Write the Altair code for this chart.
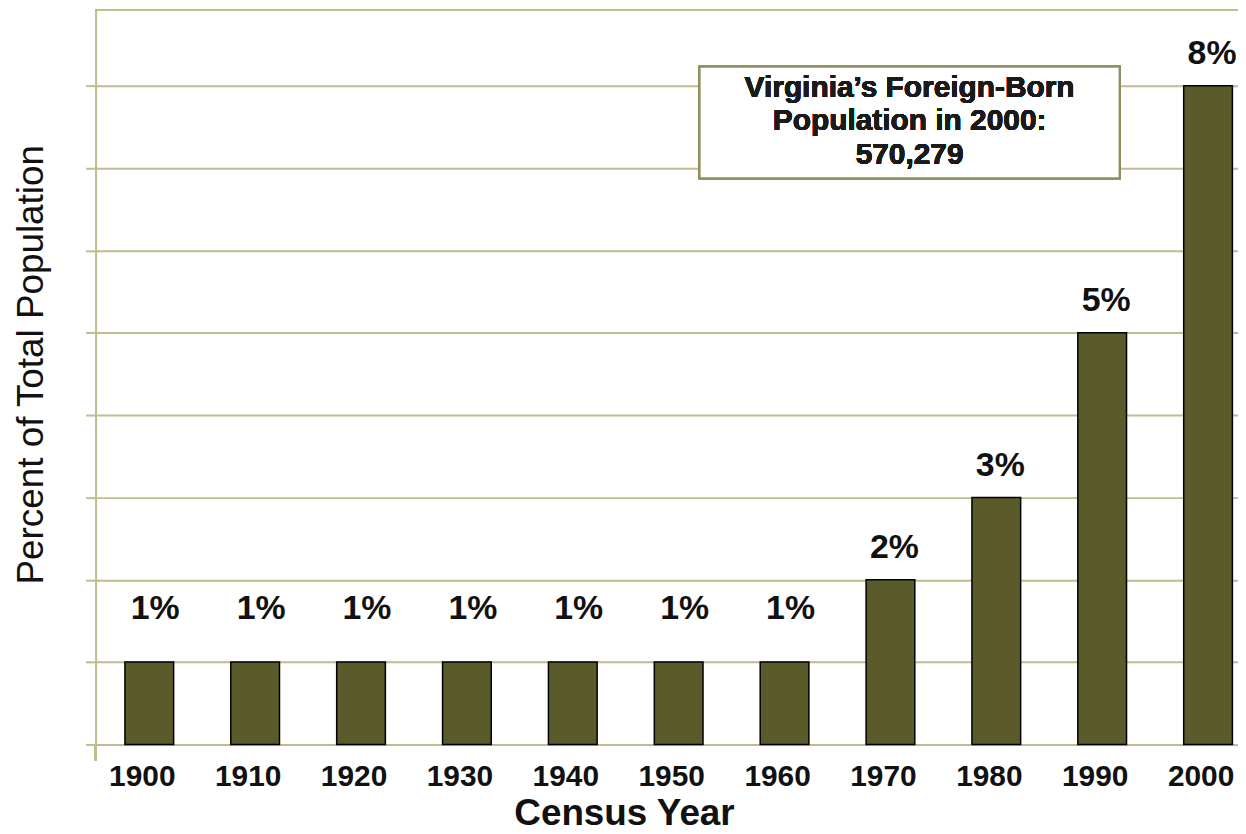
import altair as alt
import pandas as pd

years = ["1900", "1910", "1920", "1930", "1940", "1950", "1960", "1970", "1980", "1990", "2000"]
percent = [1, 1, 1, 1, 1, 1, 1, 2, 3, 5, 8]
note_lines = ["Virginia’s Foreign-Born", "Population in 2000:", "570,279"]
y_ticks = [0, 1, 2, 3, 4, 5, 6, 7, 8]

df = pd.DataFrame({"year": years, "pct": percent})

W, H = 1148, 738
FONT = "Liberation Sans"
OLIVE = "#bdbd8f"
BAR = "#5a5a2a"

x_enc = alt.X(
    "year:N",
    sort=years,
    scale=alt.Scale(paddingInner=0.54, paddingOuter=0.165, align=0.84),
    axis=alt.Axis(
        title="Census Year",
        titleFont=FONT, titleFontSize=37, titleFontWeight="bold", titleColor="#111",
        titleX=531, titleY=80, titleAnchor="middle", titleAlign="center", titleBaseline="alphabetic",
        labelFont=FONT, labelFontSize=30, labelFontWeight="bold", labelColor="#111",
        labelAngle=0, labelPadding=17, labelOffset=-7,
        ticks=False, domainColor=OLIVE, domainWidth=2, grid=False,
    ),
)
y_enc = alt.Y(
    "pct:Q",
    scale=alt.Scale(domain=[0, 8.92], nice=False, zero=True),
    axis=alt.Axis(
        title="Percent of Total Population",
        titleFont=FONT, titleFontSize=37, titleFontWeight="normal", titleColor="#111",
        titleAngle=-90, titleX=-64, titleY=356, titleAlign="center", titleBaseline="middle",
        labels=False, values=y_ticks, tickSize=10, tickColor=OLIVE, tickWidth=2,
        domainColor=OLIVE, domainWidth=2, gridColor=OLIVE, gridWidth=2,
    ),
)

base = alt.Chart(df)

bars = base.mark_bar(color=BAR, stroke="#000", strokeWidth=1.5).encode(x=x_enc, y=y_enc)

lab_small = base.transform_filter("datum.pct <= 1").transform_calculate(
    lab="datum.pct + '%'"
).mark_text(font=FONT, fontSize=34, fontWeight="bold", color="#111", baseline="alphabetic", dy=-43, dx=6).encode(
    x=alt.X("year:N", sort=years), y="pct:Q", text="lab:N"
)
lab_big = base.transform_filter("datum.pct > 1").transform_calculate(
    lab="datum.pct + '%'"
).mark_text(font=FONT, fontSize=34, fontWeight="bold", color="#111", baseline="alphabetic", dy=-22, dx=4).encode(
    x=alt.X("year:N", sort=years), y="pct:Q", text="lab:N"
)

top_rule = alt.Chart(df).mark_rule(color=OLIVE, strokeWidth=2).encode(
    x=alt.value(0), x2=alt.value(W), y=alt.value(0)
)
left_ext = alt.Chart(df).mark_rule(color=OLIVE, strokeWidth=2).encode(
    x=alt.value(0), y=alt.value(H), y2=alt.value(H + 16)
)

box = alt.Chart(df).mark_rect(fill="white", stroke="#8f8f5f", strokeWidth=2).encode(
    x=alt.value(607), x2=alt.value(1029), y=alt.value(57), y2=alt.value(169)
)
note = alt.Chart(df).mark_text(
    text=note_lines, font=FONT, fontSize=30, fontWeight="bold", color="#1a1a1a",
    align="center", baseline="top", lineHeight=34,
).encode(x=alt.value(818), y=alt.value(63))

chart = alt.layer(bars, lab_small, lab_big, top_rule, left_ext, box, note).properties(
    width=W, height=H,
    autosize=alt.AutoSizeParams(type="none"),
    padding={"left": 88, "top": 0, "right": 0, "bottom": 88},
).configure_view(stroke=None).configure(background="white")

chart.save("out.html", embed_options={"renderer": "svg", "actions": False})
